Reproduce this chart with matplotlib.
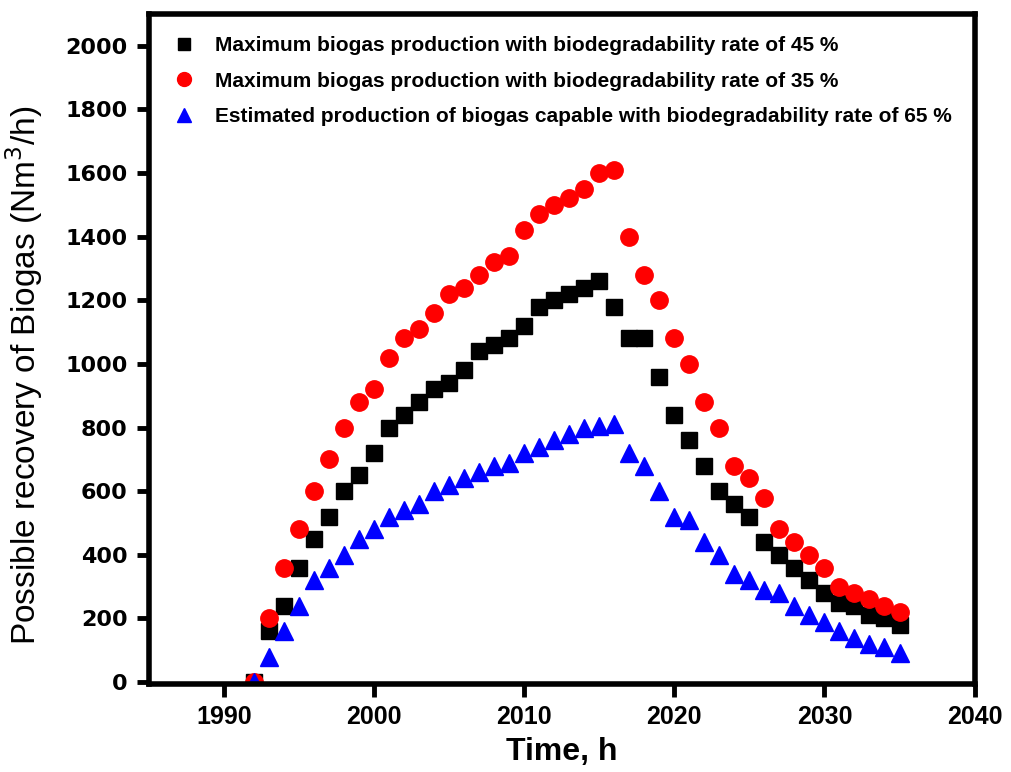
import matplotlib
matplotlib.use("Agg")
import matplotlib.pyplot as plt

# years 1992..2035
years = list(range(1992, 2036))

biogas_45 = [0, 160, 240, 360, 450, 520, 600, 650, 720, 800, 840, 880, 920, 940,
             980, 1040, 1060, 1080, 1120, 1180, 1200, 1220, 1240, 1260, 1180, 1080,
             1080, 960, 840, 760, 680, 600, 560, 520, 440, 400, 360, 320, 280, 250,
             240, 210, 200, 180]
biogas_35 = [0, 200, 360, 480, 600, 700, 800, 880, 920, 1020, 1080, 1110, 1160, 1220,
             1240, 1280, 1320, 1340, 1420, 1470, 1500, 1520, 1550, 1600, 1610, 1400,
             1280, 1200, 1080, 1000, 880, 800, 680, 640, 580, 480, 440, 400, 360, 300,
             280, 260, 240, 220]
biogas_65 = [0, 80, 160, 240, 320, 360, 400, 450, 480, 520, 540, 560, 600, 620,
             640, 660, 680, 690, 720, 740, 760, 780, 800, 805, 810, 720, 680, 600,
             520, 510, 440, 400, 340, 320, 290, 280, 240, 210, 190, 160, 140, 120,
             110, 90]

labels = ["Maximum biogas production with biodegradability rate of 45 %",
          "Maximum biogas production with biodegradability rate of 35 %",
          "Estimated production of biogas capable with biodegradability rate of 65 %"]

plt.rcParams["font.family"] = ["Liberation Sans", "DejaVu Sans"]

fig = plt.figure(figsize=(10.11, 7.72), dpi=100)
ax = fig.add_axes([0.147, 0.114, 0.817, 0.868])

ax.plot(years, biogas_45, "s", color="black", ms=11.5, ls="none", label=labels[0])
ax.plot(years, biogas_35, "o", color="red", ms=12.5, ls="none", label=labels[1])
ax.plot(years, biogas_65, "^", color="blue", ms=12.5, ls="none", label=labels[2])

ax.set_xlim(1985, 2040)
ax.set_ylim(-6, 2100)
ax.set_xticks(range(1990, 2041, 10))
ax.set_yticks(range(0, 2001, 200))

for s in ax.spines.values():
    s.set_linewidth(4)
ax.tick_params(direction="out", length=9, width=3.5, pad=6)
for t in ax.get_yticklabels():
    t.set_fontsize(16)
    t.set_fontweight("bold")
    t.set_family("DejaVu Sans")
for t in ax.get_xticklabels():
    t.set_fontsize(18)
    t.set_fontweight("bold")

ax.set_xlabel("Time, h", fontsize=23, fontweight="bold", labelpad=6)
ax.set_ylabel("Possible recovery of Biogas (Nm$^3$/h)", fontsize=24)
ax.yaxis.set_label_coords(-0.126, 0.46)

leg = ax.legend(loc="upper left", frameon=False, bbox_to_anchor=(-0.005, 0.995),
                handletextpad=0.5, labelspacing=0.8, markerscale=0.8,
                prop={"weight": "bold", "size": 15})

fig.savefig("out.png", dpi=100)
